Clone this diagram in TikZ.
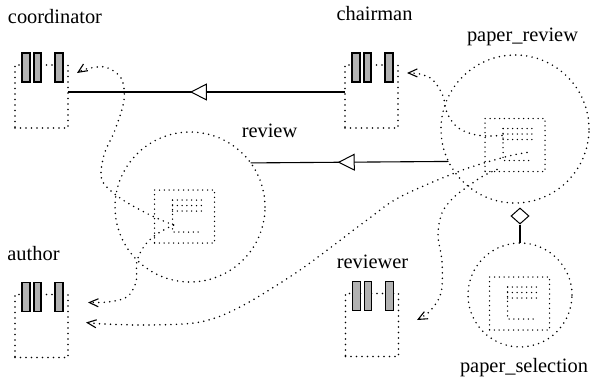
\documentclass[tikz,border=0pt]{standalone}
\usepackage{fontspec}
\setmainfont{Liberation Serif}
\usetikzlibrary{arrows.meta,decorations.markings,shapes.geometric,calc}

\begin{document}
\begin{tikzpicture}[x=1pt,y=-1pt,
  dots/.style={line width=1.7pt, line cap=round, dash pattern=on 0pt off 5.5pt},
  fine/.style={line width=1.5pt, line cap=round, dash pattern=on 0pt off 4.8pt},
  classbox/.style={draw, dots, minimum width=53pt, minimum height=63pt, inner sep=0pt, outer sep=0pt},
  detailbox/.style={draw, fine, minimum width=60pt, minimum height=53pt, inner sep=0pt, outer sep=0pt},
  bar/.style={draw=black, fill=gray!60, line width=1.3pt},
  label/.style={font=\fontsize{20.4}{24}\selectfont, anchor=base, inner sep=0pt},
  objcircle/.style={circle, draw, dots, inner sep=0pt, outer sep=0pt},
  flow/.style={dots, -{Straight Barb[length=9pt,width=8pt,line width=1.1pt]}},
  inherit/.style={line width=1.1pt, decoration={markings,
      mark=at position 0.56 with {\arrow{Triangle[length=17pt,width=17pt,fill=white,line width=1pt]}}},
      postaction={decorate}}
]
\useasboundingbox (0,0) rectangle (591,380);

% labels
\node[label] (l-coord) at (55,23) {coordinator};
\node[label] (l-chair) at (374.5,20) {chairman};
\node[label] (l-pr) at (522.5,41) {paper\_review};
\node[label] (l-rev) at (269.5,137) {review};
\node[label] (l-auth) at (33.5,260) {author};
\node[label] (l-revr) at (372.5,268) {reviewer};
\node[label] (l-ps) at (524,372) {paper\_selection};

% class icons
\node[classbox] (coordinator) at (41.5,96.5) {};
\node[classbox] (chairman) at (371.5,96.5) {};
\node[classbox] (author) at (41.5,326) {};
\node[classbox] (reviewer) at (372,325) {};
\foreach \c in {coordinator,chairman,author,reviewer}
  \foreach \a/\w in {7/8,19/7,40/8}
    \draw[bar] ($(\c.north west)+(\a,-12)$) rectangle ++(\w,29);

% object circles
\node[objcircle, minimum size=150pt] (review) at (190,207) {};
\node[objcircle, minimum size=148pt] (paperreview) at (515,129) {};
\node[objcircle, minimum size=104pt] (paperselection) at (520,295) {};

% nested boxes inside the circles
\node[detailbox] (rbox) at (184.5,216.5) {};
\node[detailbox] (prbox) at (515,145) {};
\node[detailbox] (psbox) at (519.5,303.5) {};
\foreach \b in {rbox,prbox,psbox} {
  \foreach \dy in {10,15.5,21}
    \draw[fine] ($(\b.north west)+(18,\dy)$) -- ++(29,0);
  \draw[fine] ($(\b.north west)+(18,10)$) -- ++(0,32) -- ++(29,0);
}

% aggregation
\node[diamond, draw, fill=white, line width=1pt, minimum width=18pt,
      minimum height=16pt, inner sep=0pt] (agg) at (520,216) {};
\draw[line width=1.1pt] (agg.south) -- (paperselection.north);

% inheritance lines
\draw[inherit] ([yshift=4.5pt]chairman.west) -- ([yshift=4.5pt]coordinator.east);
\draw[inherit] (paperreview.206.9) -- (review.36.4);

% connector end points
\coordinate (rin) at ($(rbox.north west)+(19,35)$);
\coordinate (prin1) at ($(prbox.north west)+(17,17)$);
\coordinate (prin2) at ($(prbox.north west)+(12,51)$);
\coordinate (prin3) at ($(prbox.north west)+(42,34)$);
\coordinate (coordin) at ($(coordinator.north east)+(9,8)$);
\coordinate (chairin) at ($(chairman.north east)+(9,8)$);
\coordinate (authin1) at ($(author.north east)+(20,8)$);
\coordinate (authin2) at ($(author.north east)+(18,28)$);
\coordinate (revrin) at ($(reviewer.north east)+(18.5,26.5)$);

% message flows
\draw[flow] plot[smooth, tension=0.55] coordinates {(rin) (150,215) (120,198) (102,180) (104,155) (115,130) (124,100) (121,78) (105,67) (86,69) (coordin)};
\draw[flow] plot[smooth, tension=0.55] coordinates {(rin) (157,234) (145,245) (137,261) (136,282) (127,297) (108,302) (authin1)};
\draw[flow] plot[smooth, tension=0.55] coordinates {(prin1) (487,136) (472,134) (457,127) (447,113) (443,96) (433,80) (420,74) (chairin)};
\draw[flow] plot[smooth, tension=0.55] coordinates {(prin2) (483,176) (467,187) (453,198) (442,213) (438,235) (442,262) (441,293) (430,311) (revrin)};
\draw[flow] plot[smooth, tension=0.55] coordinates {(prin3) (505,157) (460,171) (400,197) (367,220) (300,270) (240,307) (200,322) (150,325) (105,324) (authin2)};
\end{tikzpicture}
\end{document}
